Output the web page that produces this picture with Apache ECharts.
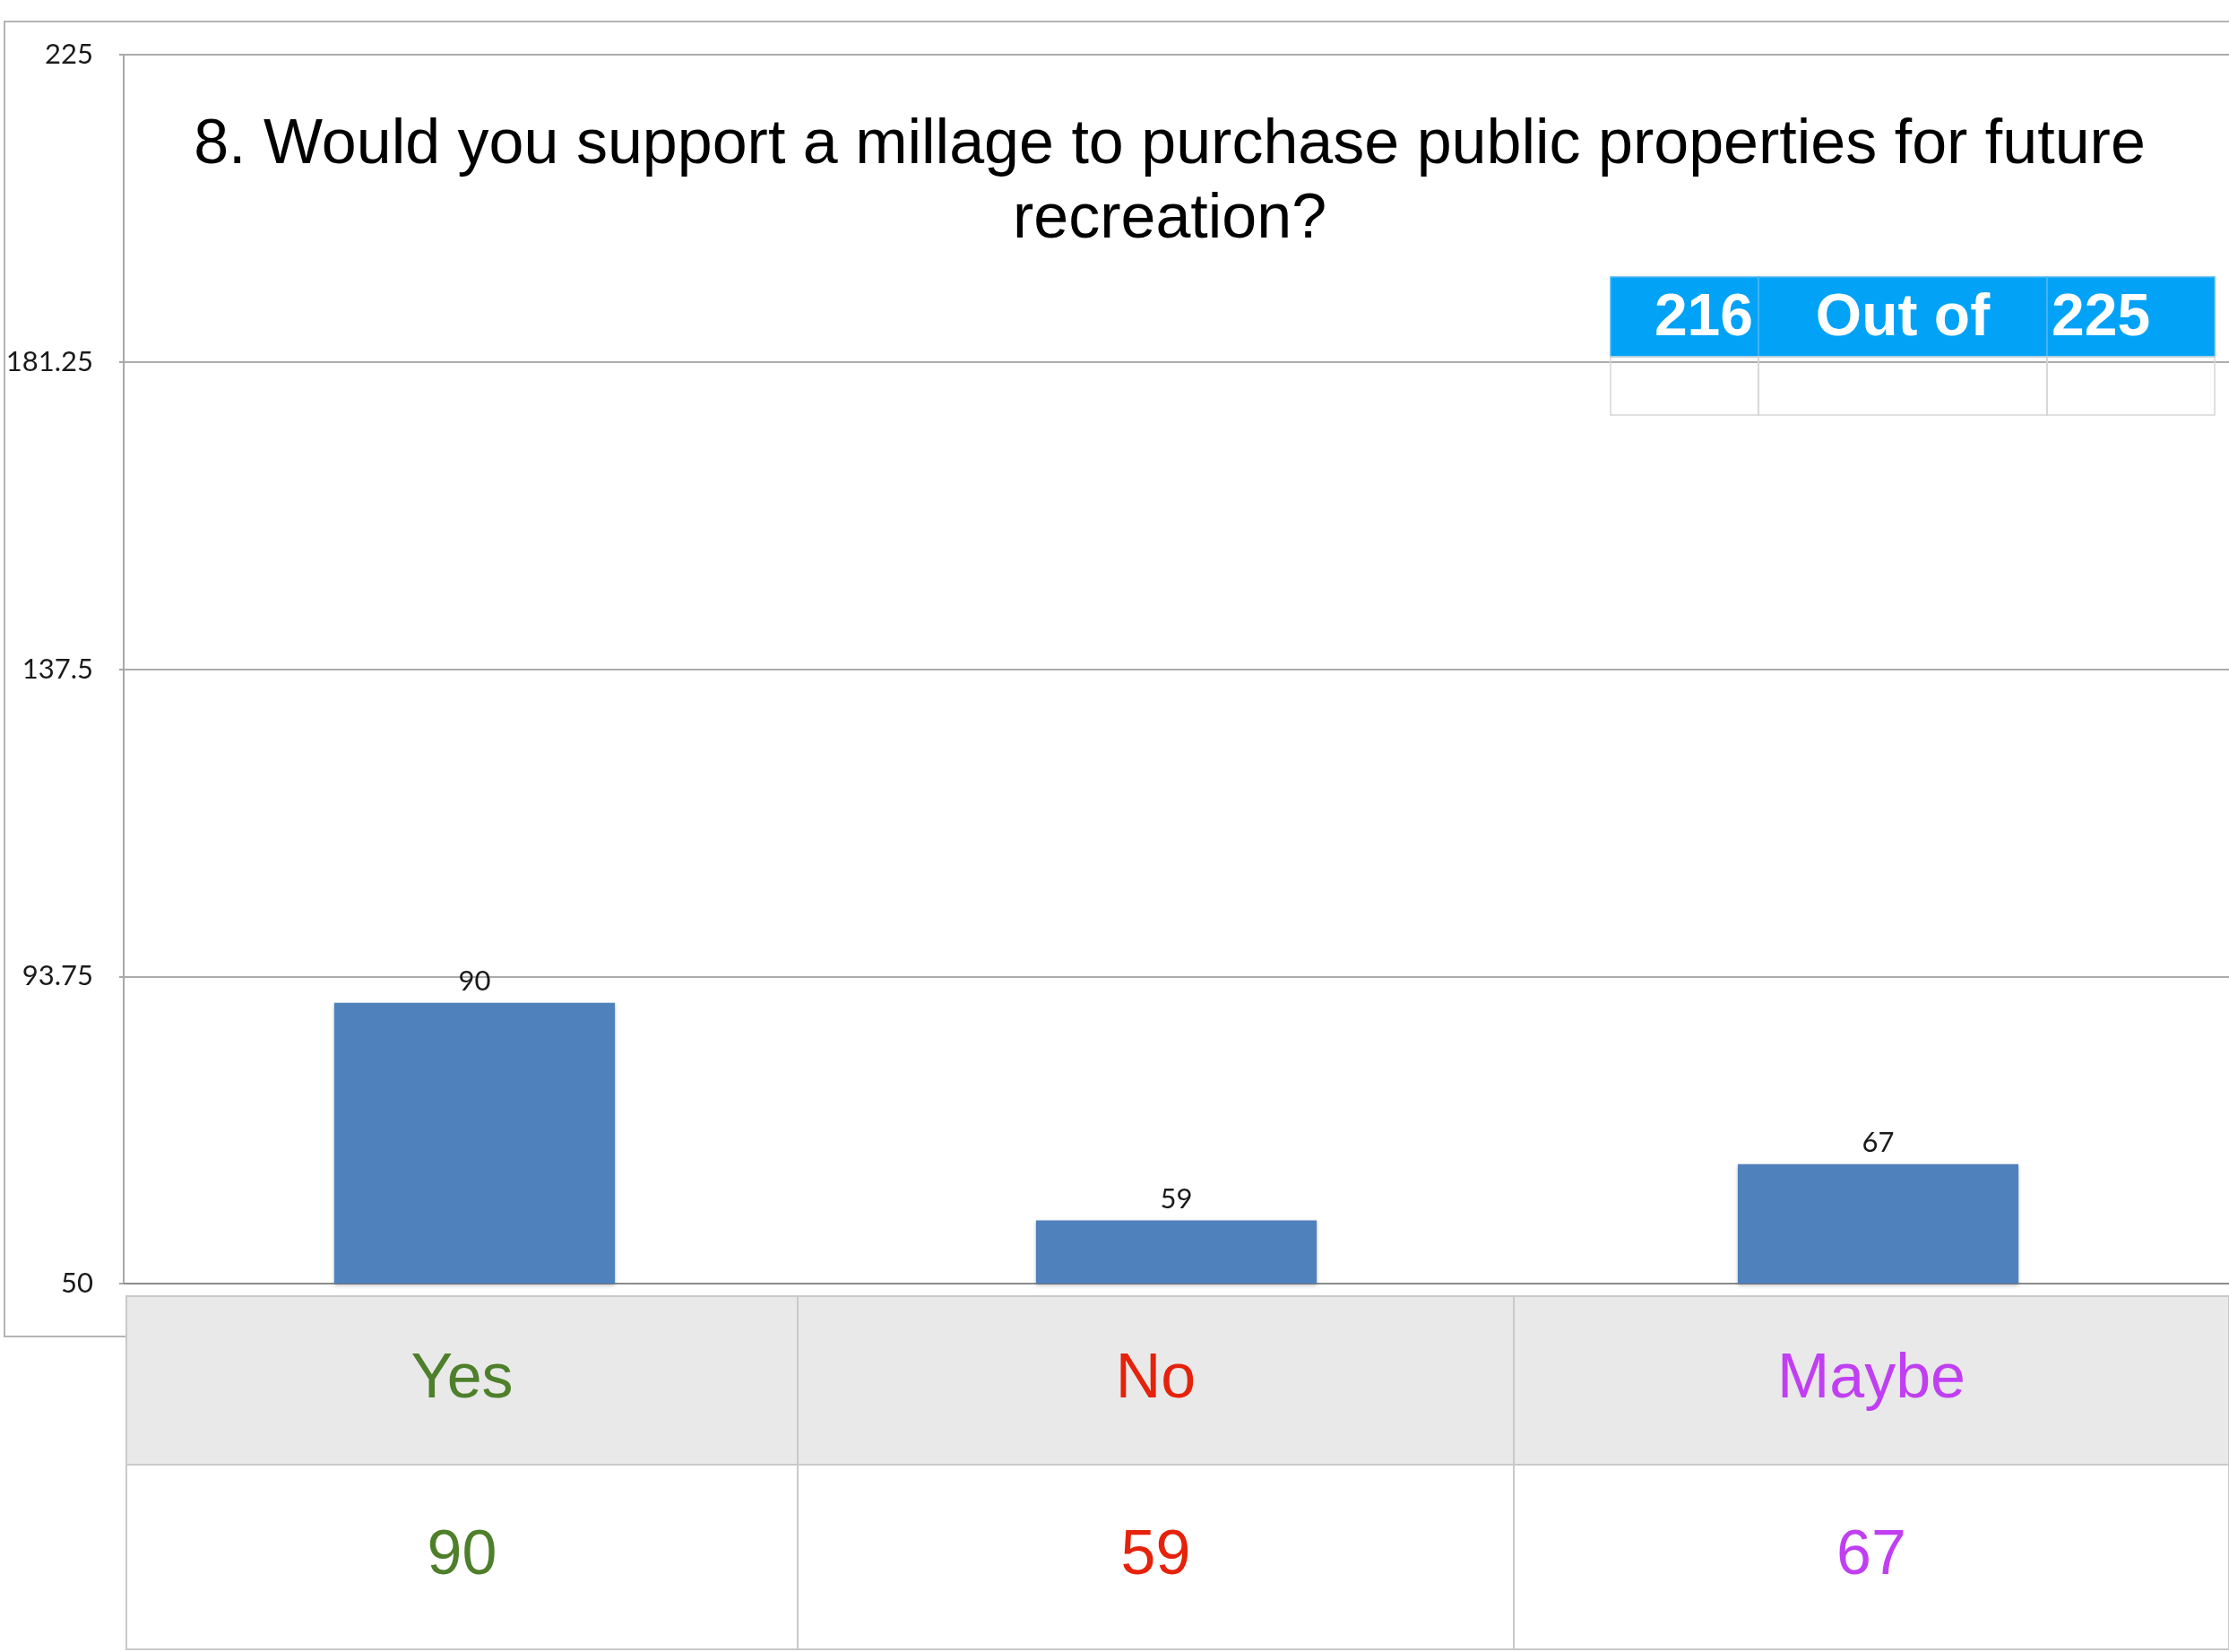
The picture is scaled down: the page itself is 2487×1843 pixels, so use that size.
<!DOCTYPE html>
<html>
<head>
<meta charset="UTF-8">
<title>Millage survey</title>
<script src="https://cdn.jsdelivr.net/npm/echarts@6/dist/echarts.min.js"></script>
<style>html,body{margin:0;padding:0;background:#fff;}</style>
</head>
<body>
<div id="main" style="width:2487px;height:1843px;"></div>

<script type="text/javascript">
// answers and how many people gave them
var categories = ['Yes', 'No', 'Maybe'];
var counts = [90, 59, 67];
var answerColors = ['#4E7F2A', '#E5220B', '#C03FF2'];
// y axis ticks as printed
var yTicks = [50, 93.75, 137.5, 181.25, 225];
// the little box top right
var boxCells = ['216', 'Out of', '225'];

var titleText = '8. Would you support a millage to purchase public properties for future\nrecreation?';

var mychart = echarts.init(document.getElementById('main'));

// bottom table (category names + counts), plus frames
var graphics = [];
// outer frame
graphics.push({
    type: 'rect', z: -10,
    shape: {x: 5, y: 24, width: 2600, height: 1467},
    style: {fill: 'none', stroke: '#b4b4b4', lineWidth: 2}
});

var colX = [141, 890, 1689, 2487];
var rowY = [1446, 1634, 1840];
for (var i = 0; i < categories.length; i++) {
    var x0 = colX[i], w = colX[i + 1] - colX[i];
    graphics.push({
        type: 'rect', z: 50,
        shape: {x: x0, y: rowY[0], width: w, height: rowY[1] - rowY[0]},
        style: {fill: '#E9E9E9', stroke: '#C9C9C9', lineWidth: 2}
    });
    graphics.push({
        type: 'rect', z: 50,
        shape: {x: x0, y: rowY[1], width: w, height: rowY[2] - rowY[1]},
        style: {fill: '#FFFFFF', stroke: '#C9C9C9', lineWidth: 2}
    });
    graphics.push({
        type: 'text', z: 60,
        x: x0 + w / 2, y: (rowY[0] + rowY[1]) / 2,
        style: {text: categories[i], fill: answerColors[i], align: 'center', verticalAlign: 'middle',
            fontSize: 70, fontFamily: '"Liberation Sans", Arial, sans-serif'}
    });
    graphics.push({
        type: 'text', z: 60,
        x: x0 + w / 2, y: (rowY[1] + rowY[2]) / 2,
        style: {text: String(counts[i]), fill: answerColors[i], align: 'center', verticalAlign: 'middle',
            fontSize: 70, fontFamily: '"Liberation Sans", Arial, sans-serif'}
    });
}

// blue box "216 Out of 225"
var boxX = [1797, 1962, 2284, 2471];
var boxY = [309, 398, 463];
var boxAlign = ['right', 'center', 'left'];
for (var j = 0; j < boxCells.length; j++) {
    var bx = boxX[j], bw = boxX[j + 1] - boxX[j];
    graphics.push({
        type: 'rect', z: 50,
        shape: {x: bx, y: boxY[0], width: bw, height: boxY[1] - boxY[0]},
        style: {fill: '#02A2F7', stroke: '#4DB8F2', lineWidth: 1.5}
    });
    graphics.push({
        type: 'rect', z: 50,
        shape: {x: bx, y: boxY[1], width: bw, height: boxY[2] - boxY[1]},
        style: {fill: 'none', stroke: '#D6D6D6', lineWidth: 1.5}
    });
    var tx = boxAlign[j] == 'right' ? boxX[j + 1] - 6 : (boxAlign[j] == 'left' ? bx + 5 : bx + bw / 2);
    graphics.push({
        type: 'text', z: 60,
        x: tx, y: (boxY[0] + boxY[1]) / 2 + 2,
        style: {text: boxCells[j], fill: '#FFFFFF', align: boxAlign[j], verticalAlign: 'middle',
            fontSize: 66, fontWeight: 'bold', fontFamily: '"Liberation Sans", Arial, sans-serif'}
    });
}

var option = {
    animation: false,
    title: {
        text: titleText,
        left: 1305,
        top: 121,
        padding: 0,
        textAlign: 'center',
        textStyle: {
            fontFamily: '"Liberation Sans", Arial, sans-serif',
            fontWeight: 'normal',
            fontSize: 70,
            lineHeight: 83,
            color: '#000'
        }
    },
    grid: {
        left: 138,
        right: 0,
        top: 61,
        bottom: 1843 - 1432,
        containLabel: false
    },
    xAxis: {
        type: 'category',
        data: categories,
        axisLine: {lineStyle: {color: '#8c8c8c', width: 2}},
        axisTick: {show: false},
        axisLabel: {show: false}
    },
    yAxis: {
        type: 'value',
        min: yTicks[0],
        max: yTicks[yTicks.length - 1],
        interval: yTicks[1] - yTicks[0],
        axisLine: {show: true, lineStyle: {color: '#a8a8a8', width: 2}},
        axisTick: {show: true, length: 5, lineStyle: {color: '#a8a8a8', width: 2}},
        axisLabel: {
            margin: 34,
            fontSize: 31,
            fontFamily: 'Lato, sans-serif',
            color: '#1a1a1a'
        },
        splitLine: {lineStyle: {color: '#ababab', width: 2}}
    },
    series: [{
        name: 'Answers',
        type: 'bar',
        data: counts,
        barCategoryGap: '60%',
        itemStyle: {
            color: '#4F81BD',
            shadowColor: 'rgba(0,0,0,0.25)',
            shadowBlur: 4,
            shadowOffsetY: 2
        },
        label: {
            show: true,
            position: 'top',
            distance: 8,
            fontSize: 31,
            fontFamily: 'Lato, sans-serif',
            color: '#1a1a1a'
        }
    }],
    graphic: graphics
};

mychart.setOption(option);
</script>
</body>
</html>
